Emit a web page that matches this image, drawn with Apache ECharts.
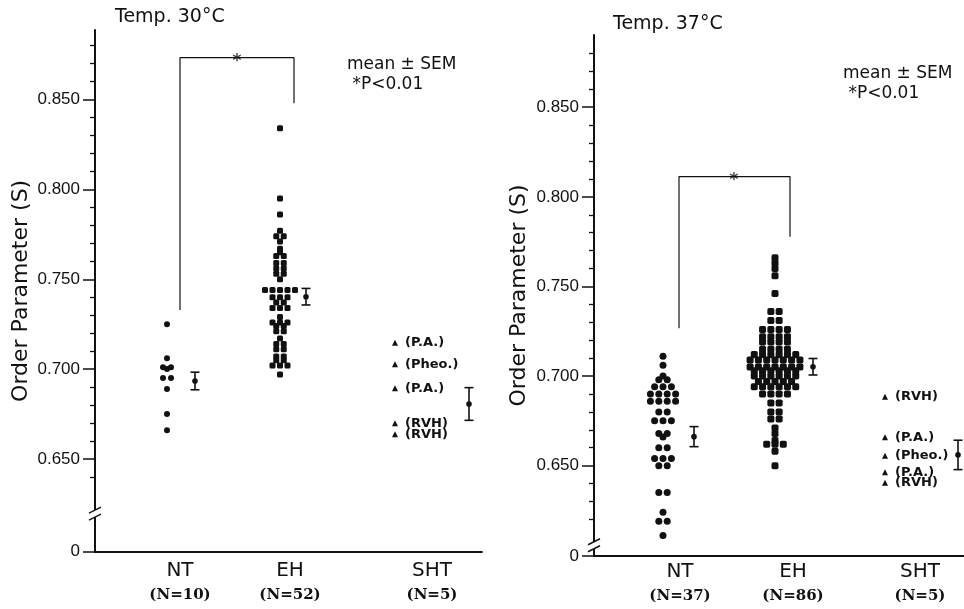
<!DOCTYPE html>
<html><head><meta charset="utf-8">
<script src="https://cdn.jsdelivr.net/npm/echarts@6/dist/echarts.min.js"></script>
<style>html,body{margin:0;padding:0;background:#fff}#c{width:964px;height:609px}</style>
</head><body><div id="c"></div>
<script>
// ---------------- data ----------------
const groups = ['NT', 'EH', 'SHT'];
const nLabels30 = ['(N=10)', '(N=52)', '(N=5)'];
const nLabels37 = ['(N=37)', '(N=86)', '(N=5)'];
const yTickValues = [0.65, 0.70, 0.75, 0.80, 0.85];
const titles = ['Temp. 30°C', 'Temp. 37°C'];
const legendLines = ['mean ± SEM', '*P<0.01'];

// 30 °C
const nt30 = [0.725, 0.706, 0.701, 0.700, 0.701, 0.695, 0.695, 0.689, 0.675, 0.666];
const eh30 = [0.834, 0.795, 0.786, 0.777, 0.774, 0.774, 0.771, 0.767, 0.765, 0.763, 0.763,
  0.759, 0.759, 0.756, 0.756, 0.753, 0.753, 0.750, 0.744, 0.744, 0.744, 0.744, 0.744,
  0.740, 0.740, 0.740, 0.737, 0.737, 0.734, 0.734, 0.734, 0.729, 0.726, 0.726, 0.726,
  0.724, 0.724, 0.721, 0.721, 0.717, 0.714, 0.714, 0.711, 0.711, 0.707, 0.707,
  0.705, 0.705, 0.702, 0.702, 0.702, 0.697];
const sht30 = [0.7147, 0.7027, 0.6893, 0.6699, 0.6637];
const sht30Labels = ['(P.A.)', '(Pheo.)', '(P.A.)', '(RVH)', '(RVH)'];
const mean30 = [0.6934, 0.7403, 0.6806];
const sem30 = [0.0049, 0.0046, 0.0091];

// 37 °C
const nt37 = [0.711, 0.706, 0.700, 0.698, 0.698, 0.694, 0.694, 0.694, 0.690, 0.690, 0.690, 0.690,
  0.686, 0.686, 0.686, 0.686, 0.680, 0.680, 0.675, 0.675, 0.675, 0.668, 0.668, 0.666,
  0.660, 0.660, 0.654, 0.654, 0.654, 0.650, 0.650, 0.635, 0.635, 0.624, 0.619, 0.619, 0.611];
const eh37 = [0.766, 0.763, 0.760, 0.756, 0.746, 0.736, 0.736, 0.731, 0.731,
  0.726, 0.726, 0.726, 0.726, 0.722, 0.722, 0.722, 0.722, 0.719, 0.719, 0.719, 0.719,
  0.715, 0.715, 0.715, 0.715, 0.712, 0.712, 0.712, 0.712, 0.712, 0.712,
  0.709, 0.709, 0.709, 0.709, 0.709, 0.709, 0.709, 0.705, 0.705, 0.705, 0.705, 0.705, 0.705, 0.705,
  0.703, 0.703, 0.703, 0.703, 0.703, 0.703, 0.700, 0.700, 0.700, 0.700, 0.700, 0.700,
  0.697, 0.697, 0.697, 0.697, 0.697, 0.694, 0.694, 0.694, 0.694, 0.694, 0.694,
  0.690, 0.690, 0.690, 0.690, 0.685, 0.685, 0.680, 0.680, 0.676, 0.676,
  0.671, 0.668, 0.664, 0.662, 0.662, 0.662, 0.658, 0.650];
const sht37 = [0.6885, 0.6658, 0.6556, 0.6463, 0.6405];
const sht37Labels = ['(RVH)', '(P.A.)', '(Pheo.)', '(P.A.)', '(RVH)'];
const mean37 = [0.6662, 0.7052, 0.6560];
const sem37 = [0.0056, 0.0046, 0.0082];

// significance brackets (value-space ends of the legs)
const bracket30 = {top: 0.8733, legs: [0.7329, 0.8479]};
const bracket37 = {top: 0.8113, legs: [0.7267, 0.7778]};

// ---------------- layout ----------------
const P = [
  {grid: {left: 95, top: 30, width: 387, height: 521.7}, ymin: 0.5984, ymax: 0.8887,
   catX: [85, 195, 337], dotX: [72, 185, 300], meanX: [100, 211, 374], brX: [85, 199, 142],
   minor: [0.64, 0.88], breakV: 0.621, sp: [8, 7.5], sz: [6, 6], nameGap: 63, lblMargin: 8,
   titlePos: [115, 8], legPos: [347, 55]},
  {grid: {left: 594, top: 35, width: 370, height: 521}, ymin: 0.5996, ymax: 0.8903,
   catX: [86, 199, 326], dotX: [69, 181, 291], meanX: [100, 219, 364], brX: [85, 196, 140],
   minor: [0.62, 0.88], breakV: 0.607, sp: [8.4, 8.3], sz: [7, 7], nameGap: 64, lblMargin: 5,
   titlePos: [613, 15], legPos: [843, 64]}
];
const panels = [
  {nt: nt30, eh: eh30, sht: sht30, shtL: sht30Labels, mean: mean30, sem: sem30, nl: nLabels30, br: bracket30},
  {nt: nt37, eh: eh37, sht: sht37, shtL: sht37Labels, mean: mean37, sem: sem37, nl: nLabels37, br: bracket37}
];

const INK = '#111111';

function dotRows(values, center, spacing) {
  const rows = new Map();
  values.forEach(v => { const k = v.toFixed(4); if (!rows.has(k)) rows.set(k, []); rows.get(k).push(v); });
  const out = [];
  rows.forEach(arr => { const n = arr.length; arr.forEach((v, i) => out.push([center + (i - (n - 1) / 2) * spacing, v])); });
  return out;
}

const grids = [], xAxes = [], yAxes = [], series = [], titleArr = [], graphics = [];
const solid = {color: INK, opacity: 1};

P.forEach((L, k) => {
  const D = panels[k];
  grids.push(L.grid);
  xAxes.push({
    type: 'value', gridIndex: k, min: 0, max: L.grid.width,
    axisLine: {show: true, lineStyle: {color: INK, width: 2}},
    axisTick: {show: false}, splitLine: {show: false},
    axisLabel: {
      show: true, margin: L.lblMargin, customValues: L.catX,
      formatter: v => { const i = L.catX.indexOf(v); return i < 0 ? '' : '{a|' + groups[i] + '}\n{b|' + D.nl[i] + '}'; },
      rich: {
        a: {fontFamily: 'DejaVu Sans', fontSize: 20, lineHeight: 22, color: INK},
        b: {fontFamily: 'DejaVu Serif', fontWeight: 'bold', fontSize: 15, lineHeight: 26, color: INK}
      }
    }
  });
  const majors = [L.ymin].concat(yTickValues);
  yAxes.push({
    type: 'value', gridIndex: k, min: L.ymin, max: L.ymax, position: 'left',
    name: 'Order Parameter (S)', nameLocation: 'middle', nameGap: L.nameGap,
    nameTextStyle: {fontFamily: 'DejaVu Sans', fontSize: 22, color: INK},
    axisLine: {show: true, lineStyle: {color: INK, width: 2}},
    axisTick: {show: true, length: 12, customValues: majors, lineStyle: {color: INK, width: 1.5}},
    axisLabel: {show: true, margin: 15, customValues: majors,
      formatter: v => v < 0.62 ? '0' : v.toFixed(3),
      fontFamily: 'Liberation Sans', fontSize: 17, color: INK},
    splitLine: {show: false}
  });
  const minors = [];
  for (let t = Math.round(L.minor[0] * 100); t <= Math.round(L.minor[1] * 100); t++) if (t % 5 !== 0) minors.push(t / 100);
  yAxes.push({
    type: 'value', gridIndex: k, min: L.ymin, max: L.ymax, position: 'left', offset: 0,
    axisLine: {show: false}, splitLine: {show: false}, axisLabel: {show: false},
    axisTick: {show: true, length: 5, customValues: minors, lineStyle: {color: INK, width: 1.3}}
  });
  const yi = 2 * k;
  // dots
  series.push({type: 'scatter', xAxisIndex: k, yAxisIndex: yi, symbol: 'circle', symbolSize: L.sz[0],
    itemStyle: solid, data: dotRows(D.nt, L.dotX[0], L.sp[0]), silent: true});
  series.push({type: 'scatter', xAxisIndex: k, yAxisIndex: yi, symbol: 'roundRect', symbolSize: L.sz[1],
    itemStyle: solid, data: dotRows(D.eh, L.dotX[1], L.sp[1]), silent: true});
  series.push({type: 'scatter', xAxisIndex: k, yAxisIndex: yi, symbol: 'triangle', symbolSize: 6,
    itemStyle: solid, silent: true,
    data: D.sht.map((v, i) => ({value: [L.dotX[2], v], name: D.shtL[i]})),
    label: {show: true, position: 'right', distance: 7, formatter: p => p.name,
      fontFamily: 'DejaVu Sans', fontWeight: 'bold', fontSize: 13, color: INK, opacity: 1}});
  // mean ± SEM
  series.push({type: 'custom', xAxisIndex: k, yAxisIndex: yi, silent: true,
    encode: {x: 0, y: 1},
    data: D.mean.map((m, i) => [L.meanX[i], m, D.sem[i]]),
    renderItem: (params, api) => {
      const x = api.value(0), m = api.value(1), s = api.value(2);
      const t = api.coord([x, m + s]), b = api.coord([x, m - s]), c = api.coord([x, m]);
      const w = 4.5, st = {stroke: INK, lineWidth: 1.6};
      return {type: 'group', children: [
        {type: 'line', shape: {x1: t[0], y1: t[1], x2: b[0], y2: b[1]}, style: st},
        {type: 'line', shape: {x1: t[0] - w, y1: t[1], x2: t[0] + w, y2: t[1]}, style: st},
        {type: 'line', shape: {x1: b[0] - w, y1: b[1], x2: b[0] + w, y2: b[1]}, style: st},
        {type: 'circle', shape: {cx: c[0], cy: c[1], r: 2.8}, style: {fill: INK}}
      ]};
    }});
  // bracket
  series.push({type: 'line', xAxisIndex: k, yAxisIndex: yi, symbol: 'none', silent: true,
    lineStyle: {color: INK, width: 1.2},
    data: [[L.brX[0], D.br.legs[0]], [L.brX[0], D.br.top], [L.brX[1], D.br.top], [L.brX[1], D.br.legs[1]]]});
  series.push({type: 'scatter', xAxisIndex: k, yAxisIndex: yi, symbolSize: 0, silent: true,
    data: [[L.brX[2], D.br.top]],
    label: {show: true, position: 'inside', formatter: '*', offset: [0, 4], fontFamily: 'DejaVu Sans', fontWeight: 'bold',
      fontSize: 17, color: INK, backgroundColor: '#fff', padding: [0, 4, 0, 4]}});
  titleArr.push({text: titles[k], left: L.titlePos[0], top: L.titlePos[1], padding: 0,
    textStyle: {fontFamily: 'DejaVu Sans', fontWeight: 'normal', fontSize: 19, color: INK}});
  graphics.push({type: 'text', left: L.legPos[0], top: L.legPos[1],
    style: {text: legendLines[0] + '\n ' + legendLines[1], font: '17px "DejaVu Sans"', lineHeight: 20, fill: INK}});
});

const chart = echarts.init(document.getElementById('c'), null, {renderer: 'canvas'});
chart.setOption({
  backgroundColor: '#fff', animation: false,
  title: titleArr, grid: grids, xAxis: xAxes, yAxis: yAxes, series: series, graphic: graphics
});

// axis-break marks, positioned through the axis scale
P.forEach((L, k) => {
  const p = chart.convertToPixel({xAxisIndex: k, yAxisIndex: 2 * k}, [0, L.breakV]);
  const x = p[0], y = p[1];
  graphics.push({type: 'polygon', shape: {points: [[x - 6, y + 2], [x + 6, y - 4], [x + 6, y + 3], [x - 6, y + 9]]}, style: {fill: '#fff'}, z: 100});
  graphics.push({type: 'line', shape: {x1: x - 6, y1: y + 2, x2: x + 6, y2: y - 4}, style: {stroke: INK, lineWidth: 1.5}, z: 101});
  graphics.push({type: 'line', shape: {x1: x - 6, y1: y + 9, x2: x + 6, y2: y + 3}, style: {stroke: INK, lineWidth: 1.5}, z: 101});
});
chart.setOption({graphic: graphics});
</script></body></html>
